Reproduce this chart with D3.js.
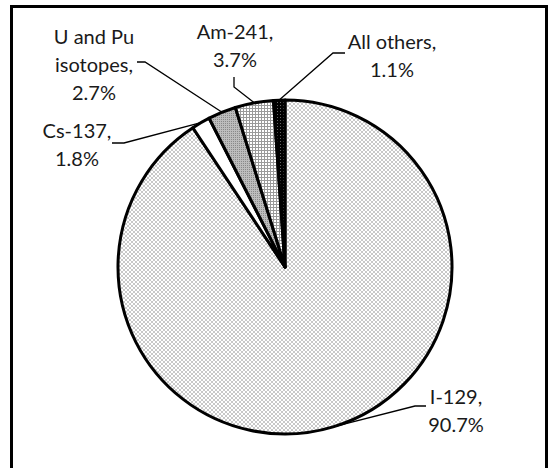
<!DOCTYPE html>
<html>
<head>
<meta charset="utf-8">
<script src="https://cdn.jsdelivr.net/npm/d3@7"></script>
<style>
  body { margin: 0; background: #fff; }
  text { font-family: Lato, sans-serif; font-size: 20px; fill: #1a1a1a; }
</style>
</head>
<body>
<div id="chart"></div>
<script>
// Data: share of dose by nuclide (clockwise from 12 o'clock)
const nuclides = ['I-129', 'Cs-137', 'U and Pu isotopes', 'Am-241', 'All others']
const percents = [90.7, 1.8, 2.7, 3.7, 1.1]
const labelText = [['I-129,', '90.7%'], ['Cs-137,', '1.8%'], ['U and Pu', 'isotopes,', '2.7%'], ['Am-241,', '3.7%'], ['All others,', '1.1%']]
const fills = ['url(#dots)', '#fff', 'url(#gray)', 'url(#grid)', 'url(#dark)']

// label placement (text centre, first line middle) and leader elbow
const labelLayout = [
  { cx: 456, cy: 397, ex: 415, ey: 406, tx: 426, ty: 406 },
  { cx: 77, cy: 131, ex: 124, ey: 143, tx: 112, ty: 143 },
  { cx: 94, cy: 37, ex: 145, ey: 62, tx: 137, ty: 62 },
  { cx: 235, cy: 32, ex: 234, ey: 87, tx: 234, ty: 77 },
  { cx: 392, cy: 42, ex: 333, ey: 53, tx: 345, ty: 53 }
]

const width = 556
const height = 468
const center = { x: 285, y: 267 }
const radius = 167
const lineH = 28

const svg = d3.select('#chart')
  .append('svg')
  .attr('width', width)
  .attr('height', height)

// Fill patterns
const defs = svg.append('defs')

const dots = defs.append('pattern').attr('id', 'dots')
  .attr('width', 4).attr('height', 4).attr('patternUnits', 'userSpaceOnUse')
dots.append('rect').attr('width', 4).attr('height', 4).attr('fill', '#fff')
dots.append('rect').attr('width', 2).attr('height', 2).attr('fill', '#c8c8c8')
dots.append('rect').attr('x', 2).attr('y', 2).attr('width', 2).attr('height', 2).attr('fill', '#c8c8c8')

const gray = defs.append('pattern').attr('id', 'gray')
  .attr('width', 2).attr('height', 2).attr('patternUnits', 'userSpaceOnUse')
gray.append('rect').attr('width', 2).attr('height', 2).attr('fill', '#bdbdbd')
gray.append('rect').attr('width', 1).attr('height', 1).attr('fill', '#8a8a8a')

const grid = defs.append('pattern').attr('id', 'grid')
  .attr('width', 3).attr('height', 3).attr('patternUnits', 'userSpaceOnUse')
grid.append('rect').attr('width', 3).attr('height', 3).attr('fill', '#fff')
grid.append('rect').attr('width', 3).attr('height', 1).attr('fill', '#9a9a9a')
grid.append('rect').attr('width', 1).attr('height', 3).attr('fill', '#9a9a9a')

const dark = defs.append('pattern').attr('id', 'dark')
  .attr('width', 3).attr('height', 3).attr('patternUnits', 'userSpaceOnUse')
dark.append('rect').attr('width', 3).attr('height', 3).attr('fill', '#000')
dark.append('rect').attr('x', 1).attr('width', 1).attr('height', 1).attr('fill', '#666')

// Chart frame
svg.append('rect')
  .attr('x', 11.5).attr('y', 6.5)
  .attr('width', 535).attr('height', 480)
  .attr('fill', 'none')
  .attr('stroke', '#000')
  .attr('stroke-width', 3)

const pie = d3.pie().sort(null).value(d => d)
const arcs = pie(percents)
const arc = d3.arc().innerRadius(0).outerRadius(radius)

const g = svg.append('g')
  .attr('transform', `translate(${center.x}, ${center.y})`)

g.selectAll('path')
  .data(arcs)
  .enter().append('path')
  .attr('d', arc)
  .attr('fill', (d, i) => fills[i])
  .attr('stroke', '#000')
  .attr('stroke-width', 3)
  .attr('stroke-linejoin', 'round')

// Leader lines
svg.selectAll('polyline.leader')
  .data(arcs)
  .enter().append('polyline')
  .attr('class', 'leader')
  .attr('fill', 'none')
  .attr('stroke', '#000')
  .attr('stroke-width', 1.3)
  .attr('points', (d, i) => {
    const a = (d.startAngle + d.endAngle) / 2
    const px = center.x + radius * Math.sin(a)
    const py = center.y - radius * Math.cos(a)
    const L = labelLayout[i]
    return `${px},${py} ${L.ex},${L.ey} ${L.tx},${L.ty}`
  })

// Labels
const label = svg.selectAll('text.lbl')
  .data(labelText)
  .enter().append('text')
  .attr('class', 'lbl')
  .attr('text-anchor', 'middle')

label.selectAll('tspan')
  .data((d, i) => d.map((t, j) => ({ t, j, L: labelLayout[i] })))
  .enter().append('tspan')
  .attr('x', d => d.L.cx)
  .attr('y', d => d.L.cy + d.j * lineH)
  .attr('dy', '0.35em')
  .text(d => d.t)
</script>
</body>
</html>
